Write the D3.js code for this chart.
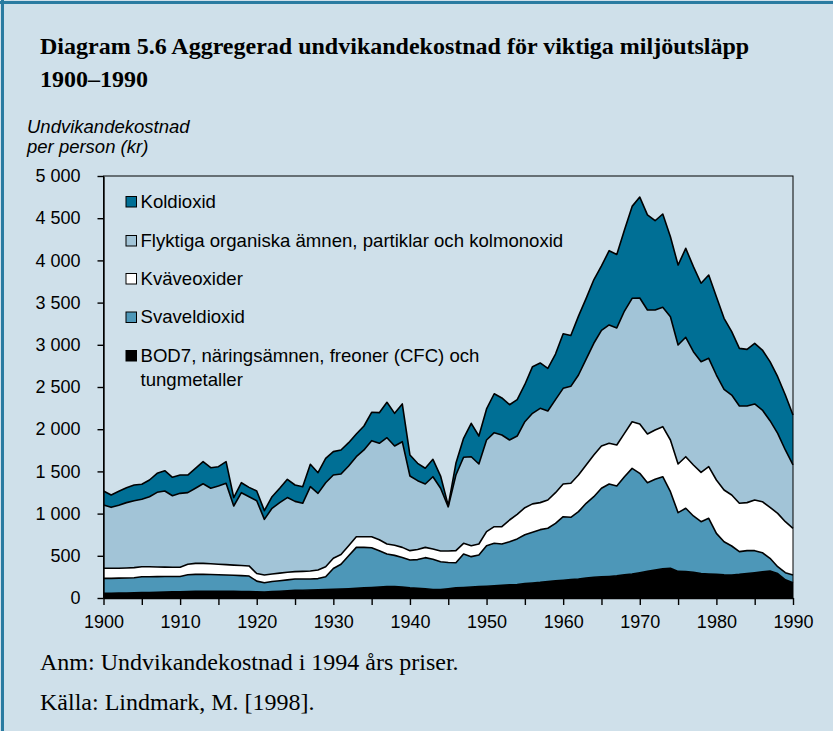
<!DOCTYPE html>
<html>
<head>
<meta charset="utf-8">
<script src="https://cdn.jsdelivr.net/npm/d3@7"></script>
<style>
  body { margin: 0; background: #cfe0ea; }
  svg { display: block; }
</style>
</head>
<body>
<div id="chart"></div>
<script>
// Data (kr per person, 1994 prices), one value per year 1900-1990
var years = d3.range(1900, 1991);

var bod7 = [55,56,58,60,62,64,66,68,70,72,
  74,76,78,80,80,80,80,78,76,75,
  72,70,75,80,85,90,92,95,98,100,
  103,106,110,115,120,125,130,135,135,130,
  120,115,110,100,100,110,120,125,130,135,
  140,145,150,155,160,170,178,185,195,203,
  210,218,225,235,245,250,255,262,275,285,
  300,315,330,345,352,315,312,305,290,285,
  280,275,273,280,290,300,310,320,290,215,
  180];

var svavel = [178,177,177,177,178,188,186,185,185,183,
  181,199,202,200,198,195,193,192,189,185,
  128,110,120,125,130,135,133,130,132,152,
  247,294,390,485,480,471,430,386,370,350,
  330,340,368,360,330,310,298,396,360,374,
  480,503,490,512,540,580,602,625,631,682,
  753,738,798,887,955,1050,1096,1065,1162,1251,
  1177,1051,1076,1092,908,696,751,667,614,659,
  486,392,343,269,271,261,227,150,81,85,
  93];

var kvave = [119,119,117,118,120,118,118,115,111,109,
  110,125,130,130,127,125,122,120,120,120,
  90,93,90,90,90,87,90,95,102,119,
  120,115,120,126,126,130,130,119,120,120,
  111,120,122,120,127,137,143,127,130,131,
  166,197,205,257,290,320,335,320,335,363,
  388,403,434,454,494,501,482,486,514,553,
  585,577,585,593,612,577,611,604,585,612,
  632,613,604,573,569,600,604,604,632,604,
  553];

var flyktiga = [750,722,748,775,793,799,830,884,902,848,
  875,848,890,944,895,927,964,700,863,820,
  863,659,778,835,885,833,807,999,908,995,
  987,954,944,948,1028,1138,1143,1259,1176,1252,
  884,815,751,857,743,523,896,1019,1054,948,
  1086,1114,1086,948,929,1019,1073,1117,1054,1102,
  1133,1149,1185,1254,1324,1369,1402,1387,1449,1462,
  1493,1469,1421,1414,1461,1410,1415,1342,1311,1284,
  1244,1193,1185,1153,1145,1138,1086,1027,948,850,
  750];

var koldioxid = [166,146,165,177,186,178,198,225,240,218,
  217,209,236,261,244,229,256,100,118,111,
  115,103,137,170,216,194,197,265,245,289,
  277,285,276,269,284,336,363,420,387,447,
  249,206,186,206,145,15,139,225,396,331,
  368,461,439,418,431,441,553,538,506,540,
  646,602,698,720,752,765,880,870,960,1089,
  1195,1128,1058,1106,947,947,1054,1008,929,987,
  928,841,751,683,671,719,711,699,671,651,
  592];

var keys = ["bod7", "svavel", "kvave", "flyktiga", "koldioxid"];
var colors = {bod7: "#000000", svavel: "#4d97b8", kvave: "#ffffff", flyktiga: "#a2c4d7", koldioxid: "#006f95"};
var legendLabels = [
  {key: "koldioxid", lines: ["Koldioxid"]},
  {key: "flyktiga", lines: ["Flyktiga organiska ämnen, partiklar och kolmonoxid"]},
  {key: "kvave", lines: ["Kväveoxider"]},
  {key: "svavel", lines: ["Svaveldioxid"]},
  {key: "bod7", lines: ["BOD7, näringsämnen, freoner (CFC) och", "tungmetaller"]}
];
var yTicks = d3.range(0, 5001, 500);
var xTicks = d3.range(1900, 1991, 5);

var width = 833, height = 731;
var sans = "'Liberation Sans', Arial, sans-serif";
var serif = "'Liberation Serif', 'Times New Roman', serif";

var svg = d3.select("#chart").append("svg")
    .attr("width", width)
    .attr("height", height);

svg.append("rect").attr("width", width).attr("height", height).attr("fill", "#cfe0ea");
// frame lines top and left
svg.append("line").attr("x1", 0).attr("x2", width).attr("y1", 2.5).attr("y2", 2.5)
    .attr("stroke", "#2a7ba1").attr("stroke-width", 3);
svg.append("line").attr("x1", 2.5).attr("x2", 2.5).attr("y1", 0).attr("y2", height)
    .attr("stroke", "#2a7ba1").attr("stroke-width", 3);

// title
svg.append("text").attr("x", 40).attr("y", 54)
    .style("font-family", serif).style("font-weight", "bold").style("font-size", "24px")
    .text("Diagram 5.6 Aggregerad undvikandekostnad för viktiga miljöutsläpp");
svg.append("text").attr("x", 40).attr("y", 87)
    .style("font-family", serif).style("font-weight", "bold").style("font-size", "24px")
    .text("1900–1990");

// y title
svg.append("text").attr("x", 27).attr("y", 133)
    .style("font-family", sans).style("font-style", "italic").style("font-size", "18.5px")
    .text("Undvikandekostnad");
svg.append("text").attr("x", 27).attr("y", 153)
    .style("font-family", sans).style("font-style", "italic").style("font-size", "18.5px")
    .text("per person (kr)");

var x = d3.scaleLinear().domain([1900, 1990]).range([103.5, 793]);
var y = d3.scaleLinear().domain([0, 5000]).range([598, 176]);

var table = years.map(function(yr, i) {
  return {year: yr, bod7: bod7[i], svavel: svavel[i], kvave: kvave[i], flyktiga: flyktiga[i], koldioxid: koldioxid[i]};
});
var stacked = d3.stack().keys(keys)(table);

var area = d3.area()
    .x(function(d) { return x(d.data.year); })
    .y0(function(d) { return y(d[0]); })
    .y1(function(d) { return y(d[1]); });
var topLine = d3.line()
    .x(function(d) { return x(d.data.year); })
    .y(function(d) { return y(d[1]); });

var g = svg.append("g");
g.selectAll(".layer").data(stacked).enter().append("path")
    .attr("class", "layer")
    .attr("d", area)
    .attr("fill", function(d) { return colors[d.key]; });
g.selectAll(".edge").data(stacked).enter().append("path")
    .attr("class", "edge")
    .attr("d", topLine)
    .attr("fill", "none")
    .attr("stroke", "#000")
    .attr("stroke-width", 1.6)
    .attr("stroke-linejoin", "round");

// plot frame
svg.append("rect").attr("x", 103.5).attr("y", 176).attr("width", 793 - 103.5).attr("height", 598 - 176)
    .attr("fill", "none").attr("stroke", "#000").attr("stroke-width", 1);

var fmt = d3.formatLocale({decimal: ",", thousands: "\u00a0", grouping: [3], currency: ["", " kr"]}).format(",d");

var yAxis = svg.append("g").attr("transform", "translate(103.5,0)")
    .call(d3.axisLeft(y).tickValues(yTicks).tickSize(6).tickSizeOuter(0).tickPadding(17).tickFormat(fmt));
var xAxis = svg.append("g").attr("transform", "translate(0,598)")
    .call(d3.axisBottom(x).tickValues(xTicks).tickSize(7).tickSizeOuter(0).tickPadding(10)
      .tickFormat(function(d) { return d % 10 === 0 ? d : ""; }));
[yAxis, xAxis].forEach(function(a) {
  a.selectAll("text").style("font-family", sans).style("font-size", "18px").attr("fill", "#000");
  a.selectAll("line").attr("stroke", "#000").attr("stroke-width", 1.4);
  a.select(".domain").attr("stroke", "#000").attr("stroke-width", 1.4);
});

// legend
var legend = svg.append("g").attr("transform", "translate(126,0)");
var rowY = [207.5, 246.5, 284.5, 323, 361.5];
legendLabels.forEach(function(item, i) {
  var row = legend.append("g").attr("transform", "translate(0," + rowY[i] + ")");
  row.append("rect").attr("x", 0).attr("y", -11).attr("width", 10.5).attr("height", 10.5)
      .attr("fill", colors[item.key]).attr("stroke", "#000").attr("stroke-width", 1);
  item.lines.forEach(function(line, j) {
    row.append("text").attr("x", 14.5).attr("y", j * 24.5)
        .style("font-family", sans).style("font-size", "18.6px")
        .text(line);
  });
});

// notes
svg.append("text").attr("x", 40).attr("y", 670)
    .style("font-family", serif).style("font-size", "24px")
    .text("Anm: Undvikandekostnad i 1994 års priser.");
svg.append("text").attr("x", 40).attr("y", 710)
    .style("font-family", serif).style("font-size", "24px")
    .text("Källa: Lindmark, M. [1998].");
</script>
</body>
</html>
